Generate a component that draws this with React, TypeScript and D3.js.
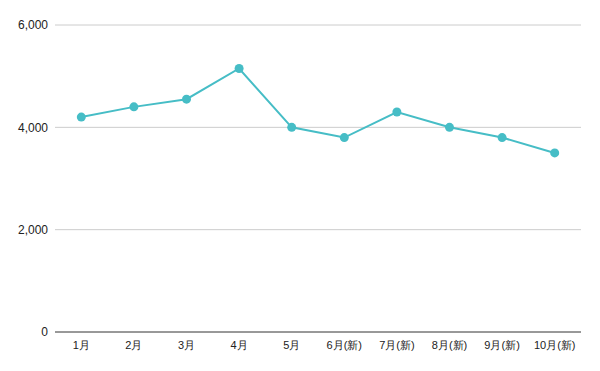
import React from "react";
import * as d3 from "d3";

const categories = ["1月", "2月", "3月", "4月", "5月", "6月(新)", "7月(新)", "8月(新)", "9月(新)", "10月(新)"];
const values = [4200, 4400, 4550, 5150, 4000, 3800, 4300, 4000, 3800, 3500];
const yTicks = [0, 2000, 4000, 6000];

const W = 600;
const H = 371;
const left = 55;
const right = 581;
const top = 25;
const bottom = 332;
const color = "#46bdc6";
const font = "'Liberation Sans', Arial, sans-serif";

export default function App() {
  const x = d3.scaleBand<string>().domain(categories).range([left, right]);
  const y = d3.scaleLinear().domain([0, 6000]).range([bottom, top]);
  const line = d3
    .line<number>()
    .x((_, i) => (x(categories[i]) as number) + x.bandwidth() / 2)
    .y((d) => y(d));
  const fmt = d3.format(",");
  return (
    <svg width={W} height={H} style={{ position: "absolute", left: 0, top: 0, background: "#fff" }}>
      <rect width={W} height={H} fill="#fff" />
      {yTicks.map((t) => (
        <g key={t}>
          {t !== 0 && (
            <line x1={left} x2={right} y1={y(t)} y2={y(t)} stroke="#cccccc" strokeWidth={1} />
          )}
          <text
            x={48}
            y={y(t)}
            dy="0.35em"
            textAnchor="end"
            fontFamily={font}
            fontSize={12}
            fill="#222"
          >
            {fmt(t)}
          </text>
        </g>
      ))}
      <line x1={left} x2={right} y1={y(0)} y2={y(0)} stroke="#333" strokeWidth={1} />
      {categories.map((c) => (
        <text
          key={c}
          x={(x(c) as number) + x.bandwidth() / 2}
          y={349}
          textAnchor="middle"
          fontFamily={font}
          fontSize={11}
          fill="#222"
        >
          {c}
        </text>
      ))}
      <path d={line(values) || ""} fill="none" stroke={color} strokeWidth={2} />
      {values.map((v, i) => (
        <circle
          key={i}
          cx={(x(categories[i]) as number) + x.bandwidth() / 2}
          cy={y(v)}
          r={4.5}
          fill={color}
        />
      ))}
    </svg>
  );
}
